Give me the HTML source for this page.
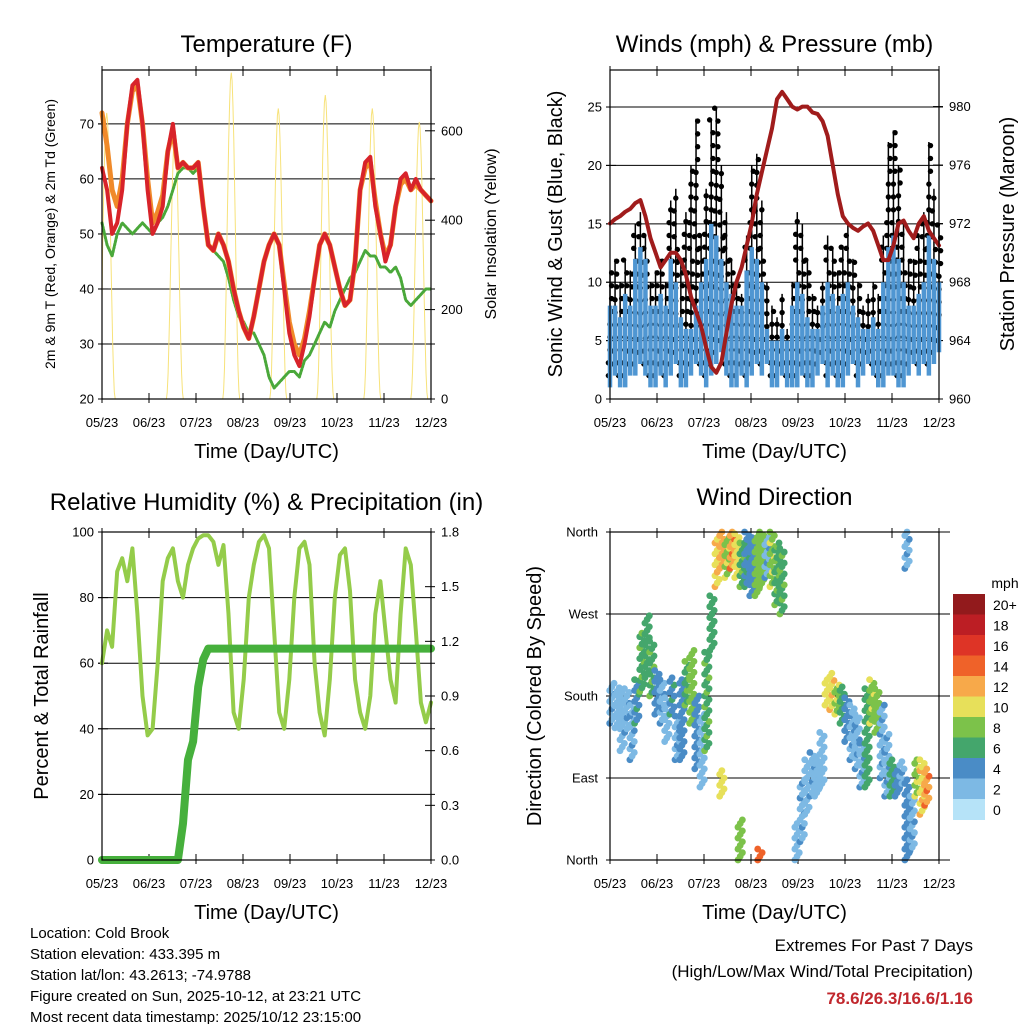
<!DOCTYPE html>
<html><head><meta charset="utf-8">
<style>
body{margin:0;background:#fff;}
svg{display:block;font-family:"Liberation Sans",Arial,sans-serif;}
</style></head>
<body>
<svg id="c" width="1024" height="1024" viewBox="0 0 1024 1024" xmlns="http://www.w3.org/2000/svg"></svg>
<script>
// ---------- DATA ----------
const dayLabels=["05/23","06/23","07/23","08/23","09/23","10/23","11/23","12/23"];
const temp2m=[62,58,50,52,58,70,77,78,70,58,50,52,55,65,70,62,63,62,62,63,55,48,47,50,48,45,40,36,33,31,35,40,45,48,50,48,40,32,28,26,30,35,42,48,50,48,44,40,37,38,45,58,63,64,55,50,45,48,55,60,61,58,60,58,57,56];
const temp9m=[72,66,58,55,60,70,76,77,70,60,52,54,57,65,69,62,63,62,62,63,55,48,47,50,48,45,40,36,33,31,35,40,45,48,50,48,41,34,30,28,31,36,42,48,50,48,44,40,37,38,45,58,62,63,56,50,46,48,55,59,60,58,59,58,57,56];
const dewpt=[52,48,46,50,52,51,50,51,52,51,50,52,53,55,58,61,62,62,61,62,55,48,47,46,45,42,38,35,34,32,32,30,28,24,22,23,24,25,25,24,27,28,30,32,34,33,36,38,40,42,43,45,47,46,46,44,44,43,44,42,38,37,38,39,40,40];
const solarDay=[0.1,1.55,2.75,3.75,4.75,5.75,6.75];
const solarPeak=[640,600,730,650,680,650,620];
const windLo=[1,2,1,1,2,2,3,2,1,1,2,1,2,3,1,1,2,3,2,1,2,3,4,2,1,1,2,1,2,3,2,3,1,1,2,1,1,1,2,1,1,2,3,1,2,1,1,2,3,1,2,3,2,1,1,2,2,1,1,2,3,2,3,2,3,4];
const windHi=[8,8,7,9,8,12,13,12,8,8,9,8,12,10,7,6,6,8,10,12,15,14,12,10,9,8,8,11,13,12,10,6,5,5,6,5,8,10,9,7,6,6,8,10,9,8,9,10,8,7,6,6,7,6,10,13,14,12,10,8,8,9,10,14,12,10];
const gust=[11,12,10,12,11,15,16,14,10,11,12,10,17,18,12,16,20,24,14,18,24,25,20,16,12,10,9,14,20,21,17,10,8,7,9,6,10,16,15,12,9,8,10,14,13,11,13,15,12,10,8,9,10,9,14,22,23,20,15,12,12,14,16,22,18,15];
const pressure=[972,972.3,972.5,972.8,973,973.4,973.6,972.5,971,970,969,969.5,970,970,969.5,968.5,967,966,965,963.5,962.2,961.8,962.5,964.5,966.5,968,969,970.5,972,974,975.5,977,978.5,980.5,981,980.5,980,979.8,980,980,979.6,979.5,979,978,976,974,972.5,972,971.7,971.5,971.8,972,971.5,970.5,969.5,969.5,970.5,972,972.2,971.5,971,972,972.5,971.5,971,970.5];
const rh=[60,70,65,88,92,85,95,75,50,38,40,60,85,92,95,85,80,90,95,98,99,99,97,90,96,75,45,40,55,80,90,97,99,95,70,45,40,55,80,95,97,90,60,45,38,55,80,93,95,82,55,45,40,50,75,85,70,55,48,75,95,90,70,48,42,48];
const precip=[0,0,0,0,0,0,0,0,0,0,0,0,0,0,0,0,0.2,0.55,0.65,0.95,1.1,1.16,1.16,1.16,1.16,1.16,1.16,1.16,1.16,1.16,1.16,1.16,1.16,1.16,1.16,1.16,1.16,1.16,1.16,1.16,1.16,1.16,1.16,1.16,1.16,1.16,1.16,1.16,1.16,1.16,1.16,1.16,1.16,1.16,1.16,1.16,1.16,1.16,1.16,1.16,1.16,1.16,1.16,1.16,1.16,1.16];
const dirDay=[0.04,0.15,0.26,0.36,0.47,0.57,0.68,0.79,0.89,1.0,1.11,1.21,1.32,1.43,1.53,1.64,1.74,1.85,1.96,2.06,2.17,2.28,2.38,2.49,2.6,2.7,2.81,2.91,3.02,3.13,3.23,3.34,3.45,3.55,3.66,3.98,4.09,4.19,4.3,4.4,4.51,4.62,4.72,4.83,4.94,5.04,5.15,5.26,5.36,5.47,5.57,5.68,5.79,5.89,6.0,6.11,6.21,6.32,6.43,6.53,6.64,6.74,2.38,2.77,3.19,6.32];
const dirLo=[150,145,120,140,110,150,185,200,180,160,150,130,160,110,110,170,150,100,80,120,230,300,320,310,320,310,300,300,290,290,300,310,300,280,270,0,20,50,70,70,80,170,165,160,150,130,110,100,80,80,150,140,90,70,70,70,80,0,10,70,50,60,70,0,0,320];
const dirHi=[195,190,190,185,170,200,250,270,240,210,200,180,200,160,200,220,230,180,160,230,290,355,360,355,360,360,350,360,355,360,360,355,360,350,345,40,90,110,120,110,140,200,205,195,190,180,170,160,130,190,200,190,170,140,110,100,110,90,70,110,110,100,100,45,12,360];
const dirSpd=[3,2,2,3,3,5,7,6,7,4,3,2,5,3,4,7,8,4,2,7,6,11,12,9,13,10,7,5,4,8,8,3,9,7,7,2,3,2,3,2,2,10,11,9,6,4,3,3,3,6,9,8,3,3,6,4,3,4,3,9,11,13,10,8,14,3];
const cbLabels=["20+","18","16","14","12","10","8","6","4","2","0"];
const cbColors=["#921a1c","#bc1e24","#de3426","#ef6229","#f7a94a","#e7e05a","#7cc24a","#44a66c","#4a8cc6","#7db9e4","#b6e3f8"];

// ---------- HELPERS ----------
const NS="http://www.w3.org/2000/svg";
const svg=document.getElementById('c');
function el(tag,attrs,parent){const e=document.createElementNS(NS,tag);for(const k in attrs)e.setAttribute(k,attrs[k]);(parent||svg).appendChild(e);return e;}
function txt(s,x,y,size,anchor,parent,extra){const t=el('text',Object.assign({x:x,y:y,'font-size':size,'text-anchor':anchor||'middle',fill:'#000'},extra||{}),parent);t.textContent=s;return t;}
function lin(d0,d1,r0,r1){return v=>r0+(v-d0)/(d1-d0)*(r1-r0);}
function spdColor(s){let i=Math.min(10,Math.floor(s/2));return cbColors[10-i];}

function panel(name,x0,x1,y0,y1,title,titleY,xTitleY){
  const g=el('g',{},svg);
  
  
  const t=txt(title,(x0+x1)/2,titleY,24,'middle',g);
  
  
  const xs=lin(0,7,x0,x1);
  dayLabels.forEach((l,i)=>{
    const lt=txt(l,xs(i),y1+28,13,'middle',g);
    
    
    el('line',{x1:xs(i),x2:xs(i),y1:y1-6,y2:y1+4,stroke:'#000','stroke-width':1},g);
    el('line',{x1:xs(i),x2:xs(i),y1:y0-4,y2:y0+6,stroke:'#000','stroke-width':1},g);
  });
  const xt=txt('Time (Day/UTC)',(x0+x1)/2,xTitleY,20,'middle',g);
  
  
  return {g,xs};
}
function frame(g,x0,x1,y0,y1){el('rect',{x:x0,y:y0,width:x1-x0,height:y1-y0,fill:'none',stroke:'#000','stroke-width':1.2},g);}
function yTicks(g,x0,x1,ys,vals,fmt,side,grid){
  vals.forEach(v=>{
    const y=ys(v);
    if(grid) el('line',{x1:x0-4,x2:x1+4,y1:y,y2:y,stroke:'#000','stroke-width':1},g);
    if(side==='l'){el('line',{x1:x0-4,x2:x0+6,y1:y,y2:y,stroke:'#000'},g);const t=txt(fmt(v),x0-8,y+4.5,13,'end',g);}
    else{el('line',{x1:x1-6,x2:x1+4,y1:y,y2:y,stroke:'#000'},g);const t=txt(fmt(v),x1+10,y+4.5,13,'start',g);}
  });
}
function vtitle(g,s,x,y,size,name){const t=txt(s,0,0,size,'middle',g,{transform:`translate(${x},${y}) rotate(-90)`});}
function polyline(g,vals,xs,ys,color,w,name){
  const n=vals.length;const pts=vals.map((v,i)=>xs(i*7/(n-1)).toFixed(1)+','+ys(v).toFixed(1)).join(' ');
  const p=el('polyline',{points:pts,fill:'none',stroke:color,'stroke-width':w,'stroke-linejoin':'round','stroke-linecap':'round'},g);
  
  
  return p;
}

// ---------- PANEL 1: TEMPERATURE ----------
(function(){
  const x0=102,x1=431,y0=70,y1=399;
  const P=panel('temperature-panel',x0,x1,y0,y1,'Temperature (F)',52,458);const g=P.g,xs=P.xs;
  const ys=lin(20,79.8,y1,y0), ysr=lin(0,736,y1,y0);
  yTicks(g,x0,x1,ys,[20,30,40,50,60,70],v=>v,'l',true);
  yTicks(g,x0,x1,ysr,[0,200,400,600],v=>v,'r',false);
  vtitle(g,'2m & 9m T (Red, Orange) & 2m Td (Green)',55,234,14,'y-axis-title');
  vtitle(g,'Solar Insolation (Yellow)',496,234,16,'y2-axis-title');
  solarDay.forEach((d,i)=>{
    let pts=[];for(let k=-10;k<=10;k++){const dd=d+k*0.018;const v=solarPeak[i]*Math.pow(Math.cos(k/10*Math.PI/2),2);pts.push(Math.max(x0,Math.min(x1,xs(dd))).toFixed(1)+','+ysr(v).toFixed(1));}
    const p=el('polyline',{points:pts.join(' '),fill:'none',stroke:'#f7e27a','stroke-width':1},g);
    
    
  });
  polyline(g,dewpt,xs,ys,'#4aa83a',3,'dewpoint-line').setAttribute('stroke-dasharray','2 1.5');
  polyline(g,temp9m,xs,ys,'#f08a2a',5,'temp-9m-line');
  polyline(g,temp2m,xs,ys,'#d8232a',4,'temp-2m-line');
  frame(g,x0,x1,y0,y1);
})();

// ---------- PANEL 2: WINDS ----------
(function(){
  const x0=610,x1=939,y0=70,y1=399;
  const P=panel('winds-panel',x0,x1,y0,y1,'Winds (mph) & Pressure (mb)',52,458);const g=P.g,xs=P.xs;
  const ys=lin(0,28.17,y1,y0), ysp=lin(960,982.5,y1,y0);
  yTicks(g,x0,x1,ys,[0,5,10,15,20,25],v=>v,'l',true);
  yTicks(g,x0,x1,ysp,[960,964,968,972,976,980],v=>v,'r',false);
  vtitle(g,'Sonic Wind & Gust (Blue, Black)',562,234,20,'y-axis-title');
  vtitle(g,'Station Pressure (Maroon)',1014,234,20,'y2-axis-title');
  const n=gust.length;
  for(let i=0;i<n;i++){
    const x=xs(i*7/(n-1));
    const b=el('line',{x1:x,x2:x,y1:ys(windLo[i]+0.5),y2:ys(gust[i]),stroke:'#000','stroke-width':1.5},g);
    
    
    for(let v=windLo[i]+1;v<=gust[i];v+=1.1){
      const c=el('circle',{cx:x+((Math.round(v*3))%3-1)*1.6,cy:ys(v),r:2.7,fill:'#000'},g);
      
      
    }
  }
  for(let i=0;i<n;i++){
    const x=xs(i*7/(n-1));
    const b=el('line',{x1:x,x2:x,y1:ys(windLo[i]),y2:ys(windHi[i]),stroke:'#4f96d2','stroke-width':4.5},g);
    
    
  }
  polyline(g,pressure,xs,ysp,'#a01c1c',4,'pressure-line');
  frame(g,x0,x1,y0,y1);
})();

// ---------- PANEL 3: RH & PRECIP ----------
(function(){
  const x0=102,x1=431,y0=532,y1=860;
  const P=panel('humidity-panel',x0,x1,y0,y1,'Relative Humidity (%) & Precipitation (in)',510,919);const g=P.g,xs=P.xs;
  const ys=lin(0,100,y1,y0), ysr=lin(0,1.8,y1,y0);
  yTicks(g,x0,x1,ys,[0,20,40,60,80,100],v=>v,'l',true);
  yTicks(g,x0,x1,ysr,[0,0.3,0.6,0.9,1.2,1.5,1.8],v=>v.toFixed(1),'r',false);
  vtitle(g,'Percent & Total Rainfall',48,696,20,'y-axis-title');
  polyline(g,rh,xs,ys,'#94cc4a',4,'rh-line');
  polyline(g,precip,xs,ysr,'#46b03c',8,'precip-line');
  frame(g,x0,x1,y0,y1);
})();

// ---------- PANEL 4: WIND DIRECTION ----------
(function(){
  const x0=610,x1=939,y0=532,y1=860;
  const P=panel('wind-direction-panel',x0,x1,y0,y1,'Wind Direction',505,919);const g=P.g,xs=P.xs;
  const ys=lin(0,360,y1,y0);
  const names=['North','East','South','West','North'];
  [0,90,180,270,360].forEach((v,i)=>{
    const y=ys(v);
    el('line',{x1:x0-4,x2:x1+11,y1:y,y2:y,stroke:'#000'},g);
    const t=txt(names[i],x0-12,y+4.5,13,'end',g);
    
    
  });
  vtitle(g,'Direction (Colored By Speed)',541,696,20,'y-axis-title');
  for(let i=0;i<dirDay.length;i++){
    const x=xs(dirDay[i]);
    let k=0;
    for(let d=dirLo[i];d<=dirHi[i];d+=4){
      const c=el('circle',{cx:x+((k%3)-1)*2.2,cy:ys(d),r:3.4,fill:spdColor(dirSpd[i]+((k%4===0)?1:0))},g);
      
      
      k++;
    }
  }
  frame(g,x0,x1,y0,y1);
  const cb=el('g',{},svg);
  
  
  txt('mph',1005,588,14,'middle',cb);
  cbColors.forEach((c,i)=>{
    const r=el('rect',{x:953,y:594+i*20.5,width:32,height:21,fill:c},cb);
    
    
    const t=txt(cbLabels[i],993,610+i*20.5,14,'start',cb);
    
    
  });
})();

// ---------- FOOTER ----------
const info=["Location: Cold Brook","Station elevation: 433.395 m","Station lat/lon: 43.2613; -74.9788","Figure created on Sun, 2025-10-12, at 23:21 UTC","Most recent data timestamp: 2025/10/12 23:15:00"];
info.forEach((s,i)=>{const t=txt(s,30,938+i*21,15,'start');});
let e1=txt('Extremes For Past 7 Days',973,951,17,'end');
let e2=txt('(High/Low/Max Wind/Total Precipitation)',973,977,17,'end');
let e3=txt('78.6/26.3/16.6/1.16',973,1004,17,'end',null,{fill:'#c1272d','font-weight':'bold'});
</script>
</body></html>
